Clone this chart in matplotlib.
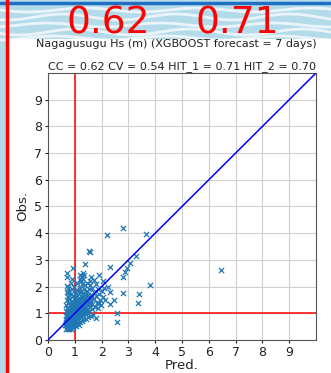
import numpy as np
import matplotlib
matplotlib.use("Agg")
import matplotlib.pyplot as plt
from matplotlib.patches import Rectangle

# --- data ---
cluster_pred = [
    0.70, 0.72, 0.68, 0.75, 0.78, 0.74, 0.80, 0.82, 0.77, 0.71, 0.66, 0.69, 0.73, 0.79,
    0.84, 0.86, 0.81, 0.76, 0.70, 0.83, 0.88, 0.90, 0.92, 0.87, 0.85, 0.80, 0.74, 0.78,
    0.72, 0.83, 0.89, 0.91, 0.94, 0.96, 0.93, 0.98, 1.00, 0.97, 0.95, 0.90, 0.86, 0.82,
    0.76, 0.71, 0.80, 0.88, 0.93, 0.99, 1.02, 1.04, 1.06, 1.01, 1.05, 1.08, 1.10, 1.12,
    1.03, 1.07, 1.11, 1.14, 1.16, 1.13, 1.09, 1.01, 0.96, 0.92, 0.85, 0.78, 0.73, 0.99,
    1.05, 1.12, 1.18, 1.20, 1.22, 1.19, 1.25, 1.28, 1.24, 1.17, 1.10, 1.03, 0.97, 1.15,
    1.22, 1.30, 1.33, 1.35, 1.31, 1.38, 1.40, 1.42, 1.36, 1.29, 1.21, 1.27, 1.34, 1.40,
    1.46, 1.48, 1.45, 1.52, 1.55, 1.58, 1.50, 1.44, 1.38, 1.30, 1.25, 1.52, 1.60, 1.63,
    1.66, 1.70, 1.72, 1.65, 1.58, 1.78, 1.82, 1.85, 1.75, 1.68, 1.60, 1.50, 1.42, 1.32,
    1.26, 1.18, 1.08, 0.98, 0.88, 0.85, 0.95, 1.05, 1.15, 1.92, 1.95, 2.00, 2.05, 1.88,
    1.98, 2.10, 1.80, 1.70, 1.62, 1.55, 1.47, 1.35, 0.65, 0.67, 0.73, 0.69, 0.66, 0.68,
    0.75, 0.80, 0.70, 0.72, 0.95, 1.00, 1.06, 0.90, 0.86, 1.10, 1.18, 1.22,
    0.82, 0.85, 0.88, 0.91, 0.94, 0.97, 1.00, 1.03, 1.06, 1.09, 0.80, 0.84, 0.87, 0.90,
    0.93, 0.96, 1.00, 1.04, 1.08, 1.12, 1.16, 1.20, 1.24, 1.14, 1.18, 1.26, 1.32, 1.36,
    1.28, 1.22, 0.78, 0.75, 0.72, 0.77, 0.83, 0.86, 0.89, 0.92, 0.95, 0.98, 1.02, 1.05,
    1.10, 1.15, 1.18, 1.22, 1.27, 1.30, 1.34, 1.40, 1.44, 1.48, 1.54, 1.56, 1.62, 0.92,
    0.96, 1.00, 1.04, 1.08,
]
cluster_obs = [
    0.45, 0.52, 0.60, 0.48, 0.55, 0.65, 0.42, 0.50, 0.70, 0.72, 0.68, 0.80, 0.85, 0.62,
    0.58, 0.66, 0.75, 0.90, 0.95, 0.88, 0.72, 0.60, 0.52, 0.80, 0.95, 1.02, 1.05, 1.15,
    1.20, 1.10, 0.98, 0.85, 0.70, 0.78, 0.92, 0.64, 0.72, 1.00, 1.08, 1.15, 1.25, 1.32,
    1.40, 1.50, 1.55, 1.45, 1.30, 1.20, 0.85, 0.95, 0.76, 1.05, 1.12, 1.00, 0.88, 0.80,
    1.28, 1.22, 1.10, 0.95, 1.05, 1.18, 1.35, 1.42, 1.55, 1.65, 1.72, 1.85, 1.95, 1.75,
    1.60, 1.45, 1.30, 1.15, 0.98, 0.86, 1.08, 1.20, 1.35, 1.55, 1.70, 1.88, 2.00, 1.85,
    1.65, 1.45, 1.28, 1.12, 0.95, 1.02, 1.25, 1.40, 1.58, 1.75, 1.95, 2.10, 1.90, 1.72,
    1.55, 1.30, 1.15, 1.08, 1.22, 1.45, 1.68, 1.85, 2.05, 2.30, 2.40, 1.92, 1.70, 1.35,
    1.15, 1.52, 1.80, 1.95, 2.05, 1.65, 1.40, 1.90, 1.25, 0.95, 0.90, 0.88, 0.80, 0.78,
    0.70, 0.66, 0.62, 0.55, 0.48, 0.40, 0.45, 0.52, 0.58, 1.72, 1.50, 1.85, 1.62, 1.18,
    1.30, 1.95, 2.10, 2.25, 2.35, 2.20, 2.12, 2.45, 0.55, 0.42, 0.40, 1.10, 0.90, 1.30,
    1.60, 1.68, 2.35, 1.80, 1.40, 1.30, 1.45, 1.90, 2.15, 2.15, 2.30, 2.20,
    0.62, 0.70, 0.65, 0.75, 0.82, 0.88, 0.93, 0.98, 1.03, 1.08, 0.85, 0.92, 1.00, 1.05,
    1.12, 1.18, 1.00, 1.08, 1.15, 1.25, 1.15, 1.25, 1.20, 1.38, 1.45, 1.50, 1.38, 1.48,
    1.62, 1.78, 0.95, 0.78, 0.62, 0.60, 0.78, 0.85, 0.90, 0.98, 0.93, 1.10, 1.15, 1.22,
    1.30, 1.02, 0.92, 1.08, 0.98, 1.10, 1.20, 1.08, 1.00, 1.45, 1.55, 1.35, 1.58, 0.68,
    0.72, 0.82, 0.70, 0.78,
]
outlier_pred = [2.21, 2.80, 3.66, 1.54, 1.58, 3.27, 2.30, 3.06, 2.93, 2.88, 2.81, 3.79,
                3.41, 3.36, 2.79, 2.59, 2.59, 2.31, 1.78, 1.37, 0.94, 0.72, 0.88, 0.70,
                0.74, 1.19, 1.31, 1.90, 2.05, 2.25, 2.31, 2.12, 1.90, 2.46, 6.44]
outlier_obs = [3.93, 4.18, 3.96, 3.34, 3.30, 3.15, 2.72, 2.87, 2.68, 2.56, 2.35, 2.07,
               1.72, 1.37, 1.75, 1.02, 0.67, 1.35, 0.81, 2.83, 2.68, 2.52, 2.30, 2.02,
               1.75, 2.43, 2.50, 2.43, 2.20, 2.00, 1.80, 1.50, 1.40, 1.50, 2.62]

pred = cluster_pred + outlier_pred
obs = cluster_obs + outlier_obs

threshold = 1.0
ticks = list(range(10))
title_line1 = "Nagagusugu Hs (m) (XGBOOST forecast = 7 days)"
title_line2 = "CC = 0.62 CV = 0.54 HIT_1 = 0.71 HIT_2 = 0.70"
big_labels = ["0.62", "0.71"]

W, H = 331, 373
fig = plt.figure(figsize=(W / 100, H / 100), dpi=100)
fig.patch.set_facecolor("white")

# background decoration (screenshot frame) in pixel coordinates
bg = fig.add_axes([0, 0, 1, 1], zorder=0)
bg.set_xlim(0, W)
bg.set_ylim(H, 0)
bg.axis("off")
bg.add_patch(Rectangle((0, 0), W, 40, color="#b3dbea", lw=0))
bg.add_patch(Rectangle((0, 0), 6, H, color="#b3dbea", lw=0))
xx = np.linspace(0, W, 200)
for y0, amp, ph in [(10, 2, 0.0), (17, 3, 1.2), (25, 2, 2.1), (32, 3, 0.5), (38, 2, 1.7)]:
    bg.plot(xx, y0 + amp * np.sin(xx / 18 + ph), color="white", lw=2.0, alpha=0.75)
bg.add_patch(Rectangle((8, 39), W - 8, H - 39, color="white", lw=0))
bg.plot([0, W], [3, 3], color="#1f6fc4", lw=2.5)
bg.plot([6.5, 6.5], [0, H], color="red", lw=2.5)

ax = fig.add_axes([48 / W, 33 / H, 268 / W, 267 / H], zorder=1)
ax.set_facecolor("white")
ax.scatter(pred, obs, marker="x", s=14, color="#1f77b4", linewidths=0.9, zorder=3)
ax.plot([0, 10], [0, 10], color="blue", lw=1.1, zorder=4)
ax.axvline(threshold, color="red", lw=1.1, zorder=2)
ax.axhline(threshold, color="red", lw=1.1, zorder=2)
ax.set_xlim(0, 10)
ax.set_ylim(0, 10)
ax.set_xticks(ticks)
ax.set_yticks(ticks)
ax.tick_params(labelsize=9, colors="#222222", length=2.5, pad=1.5)
ax.grid(True, color="#d0d0d0", lw=0.8)
ax.set_axisbelow(True)
for s in ax.spines.values():
    s.set_color("#555555")
ax.set_xlabel("Pred.", fontsize=9.5, color="#222222", labelpad=0)
ax.set_ylabel("Obs.", fontsize=9.5, color="#222222", labelpad=4)
ax.set_title(title_line2, fontsize=8, color="#222222", pad=3)
fig.text(176 / W, 1 - 44 / H, title_line1, fontsize=8, color="#222222",
         ha="center", va="center", zorder=5)

fig.text(108 / W, 1 - 24 / H, big_labels[0], color="red", fontsize=27, ha="center", va="center", zorder=5)
fig.text(237 / W, 1 - 24 / H, big_labels[1], color="red", fontsize=27, ha="center", va="center", zorder=5)

fig.savefig("out.png", dpi=100)
